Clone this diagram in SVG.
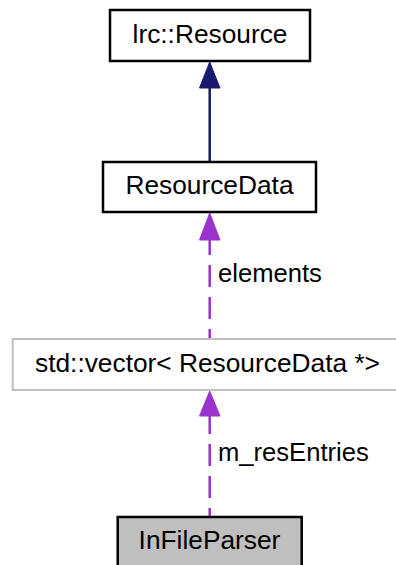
<svg xmlns="http://www.w3.org/2000/svg" width="396" height="565" viewBox="0 0 396 565">
<defs>
<style>
.box{fill:#ffffff;stroke:#000000;stroke-width:2.5}
.ext{fill:#ffffff;stroke:#bfbfbf;stroke-width:2}
.cur{fill:#bfbfbf;stroke:#000000;stroke-width:2.5}
.lbl{font-family:"Liberation Sans",Arial,Helvetica,sans-serif;font-size:26.3px;fill:#000000}
.elbl{font-family:"Liberation Sans",Arial,Helvetica,sans-serif;font-size:25.6px;fill:#000000}
.mid{text-anchor:middle}
.inh{stroke:#191970;stroke-width:2.5;fill:none}
.use{stroke:#9a32cd;stroke-width:2.5;fill:none;stroke-dasharray:22,10}
.hb{fill:#191970;stroke:#191970;stroke-width:1}
.hp{fill:#9a32cd;stroke:#9a32cd;stroke-width:1}
</style>
</defs>
<rect width="396" height="565" fill="#ffffff"/>
<g id="edges">
<path class="inh" d="M209.7,162 L209.7,86"/>
<polygon class="hb" points="209.7,62 199.5,88 220,88"/>
<path class="use" d="M209.7,240 L209.7,339" stroke-dashoffset="7"/>
<polygon class="hp" points="209.7,213 199.5,240 220,240"/>
<text class="elbl" x="218" y="282">elements</text>
<path class="use" d="M209.7,416 L209.7,516" stroke-dashoffset="4"/>
<polygon class="hp" points="209.7,391 199.5,416 220,416"/>
<text class="elbl" x="218" y="461">m_resEntries</text>
</g>
<g id="node-lrc-Resource">
<rect class="box" x="110" y="10" width="200" height="51"/>
<text class="lbl mid" x="210" y="43">lrc::Resource</text>
</g>
<g id="node-ResourceData">
<rect class="box" x="103" y="162" width="213" height="50"/>
<text class="lbl mid" x="209.5" y="194">ResourceData</text>
</g>
<g id="node-vector">
<rect class="ext" x="12.7" y="339" width="392" height="51"/>
<text class="lbl mid" x="207.5" y="372">std::vector&lt; ResourceData *&gt;</text>
</g>
<g id="node-InFileParser">
<rect class="cur" x="117.7" y="517" width="184" height="52"/>
<text class="lbl mid" x="209.5" y="549">InFileParser</text>
</g>
</svg>
